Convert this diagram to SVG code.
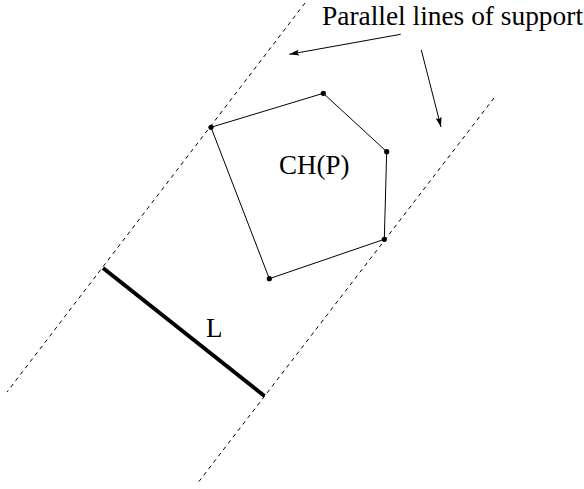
<svg xmlns="http://www.w3.org/2000/svg" width="584" height="489" viewBox="0 0 584 489">
<style>
.dash{stroke:#000;stroke-width:1;stroke-dasharray:4 4;fill:none}
.edge{stroke:#000;stroke-width:1;fill:none}
.pt{fill:#000}
.lbl{font-family:"Liberation Serif","Times New Roman",serif;font-size:27px;fill:#000}
</style>
<defs>
<marker id="ah" viewBox="0 0 10 6" refX="10" refY="3" markerWidth="10" markerHeight="6" markerUnits="userSpaceOnUse" orient="auto">
<path d="M0,0 L10,3 L0,6 L2,3 Z" fill="#000"/>
</marker>
</defs>
<g id="connectors">
<line class="dash" x1="305" y1="3" x2="7" y2="392"/>
<line class="dash" x1="494" y1="98" x2="197" y2="484"/>
<line class="edge" x1="400.7" y1="34.3" x2="289.3" y2="54.3" marker-end="url(#ah)"/>
<line class="edge" x1="421.3" y1="50" x2="441" y2="127" marker-end="url(#ah)"/>
</g>
<g id="hull">
<polygon class="edge" points="211,127.3 323.3,93.3 386.7,151.7 384.3,239.3 269.3,278.7"/>
<circle class="pt" cx="211" cy="127.3" r="2.6"/>
<circle class="pt" cx="323.3" cy="93.3" r="2.6"/>
<circle class="pt" cx="386.7" cy="151.7" r="2.6"/>
<circle class="pt" cx="384.3" cy="239.3" r="2.6"/>
<circle class="pt" cx="269.3" cy="278.7" r="2.6"/>
<text class="lbl" x="279" y="174">CH(P)</text>
</g>
<g id="segmentL">
<line x1="103" y1="268" x2="264.5" y2="396" stroke="#000" stroke-width="4"/>
<text class="lbl" x="206" y="337">L</text>
</g>
<g id="caption">
<text class="lbl" x="322" y="25" textLength="261" lengthAdjust="spacingAndGlyphs">Parallel lines of support</text>
</g>
</svg>
